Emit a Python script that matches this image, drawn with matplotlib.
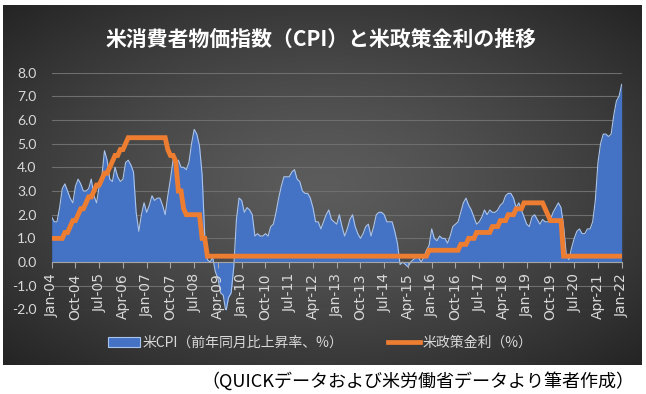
import numpy as np
import matplotlib.pyplot as plt
from matplotlib.patches import Patch
from matplotlib.lines import Line2D

# US CPI, year-on-year change (%), monthly Jan-2004 .. Jan-2022
cpi_2004_2008 = [
    1.9, 1.7, 1.7, 2.3, 3.1, 3.3, 3.0, 2.7, 2.5, 3.2, 3.5, 3.3,
    3.0, 3.0, 3.1, 3.5, 2.8, 2.5, 3.2, 3.6, 4.7, 4.3, 3.5, 3.4,
    4.0, 3.6, 3.4, 3.5, 4.2, 4.3, 4.1, 3.8, 2.1, 1.3, 2.0, 2.5,
    2.1, 2.4, 2.8, 2.6, 2.7, 2.7, 2.4, 2.0, 2.8, 3.5, 4.3, 4.1,
    4.3, 4.0, 4.0, 3.9, 4.2, 5.0, 5.6, 5.4, 4.9, 3.7, 1.1, 0.1,
]
cpi_2009_2014 = [
    0.0, 0.2, -0.4, -0.7, -1.3, -1.4, -2.1, -1.5, -1.3, -0.2, 1.8, 2.7,
    2.6, 2.1, 2.3, 2.2, 2.0, 1.1, 1.2, 1.1, 1.1, 1.2, 1.1, 1.5,
    1.6, 2.1, 2.7, 3.2, 3.6, 3.6, 3.6, 3.8, 3.9, 3.5, 3.4, 3.0,
    2.9, 2.9, 2.7, 2.3, 1.7, 1.7, 1.4, 1.7, 2.0, 2.2, 1.8, 1.7,
    1.6, 2.0, 1.5, 1.1, 1.4, 1.8, 2.0, 1.5, 1.2, 1.0, 1.2, 1.5,
    1.6, 1.1, 1.5, 2.0, 2.1, 2.1, 2.0, 1.7, 1.7, 1.7, 1.3, 0.8,
]
cpi_2015_2022 = [
    -0.1, 0.0, -0.1, -0.2, 0.0, 0.1, 0.2, 0.2, 0.0, 0.2, 0.5, 0.7,
    1.4, 1.0, 0.9, 1.1, 1.0, 1.0, 0.8, 1.1, 1.5, 1.6, 1.7, 2.1,
    2.5, 2.7, 2.4, 2.2, 1.9, 1.6, 1.7, 1.9, 2.2, 2.0, 2.2, 2.1,
    2.1, 2.2, 2.4, 2.5, 2.8, 2.9, 2.9, 2.7, 2.3, 2.5, 2.2, 1.9,
    1.6, 1.5, 1.9, 2.0, 1.8, 1.6, 1.8, 1.7, 1.7, 1.8, 2.1, 2.3,
    2.5, 2.3, 1.5, 0.3, 0.1, 0.6, 1.0, 1.3, 1.4, 1.2, 1.2, 1.4,
    1.4, 1.7, 2.6, 4.2, 5.0, 5.4, 5.4, 5.3, 5.4, 6.2, 6.8, 7.0,
    7.5,
]

# US policy rate (upper bound of FF target, %), month end
rate_2004_2008 = [
    1.0, 1.0, 1.0, 1.0, 1.0, 1.25, 1.25, 1.5, 1.75, 1.75, 2.0, 2.25,
    2.25, 2.5, 2.75, 2.75, 3.0, 3.25, 3.25, 3.5, 3.75, 3.75, 4.0, 4.25,
    4.5, 4.5, 4.75, 4.75, 5.0, 5.25, 5.25, 5.25, 5.25, 5.25, 5.25, 5.25,
    5.25, 5.25, 5.25, 5.25, 5.25, 5.25, 5.25, 5.25, 4.75, 4.5, 4.5, 4.25,
    3.0, 3.0, 2.25, 2.0, 2.0, 2.0, 2.0, 2.0, 2.0, 1.0, 1.0, 0.25,
]
rate_2009_2014 = [0.25] * 72
rate_2015_2022 = [
    0.25, 0.25, 0.25, 0.25, 0.25, 0.25, 0.25, 0.25, 0.25, 0.25, 0.25, 0.5,
    0.5, 0.5, 0.5, 0.5, 0.5, 0.5, 0.5, 0.5, 0.5, 0.5, 0.5, 0.75,
    0.75, 0.75, 1.0, 1.0, 1.0, 1.25, 1.25, 1.25, 1.25, 1.25, 1.25, 1.5,
    1.5, 1.5, 1.75, 1.75, 1.75, 2.0, 2.0, 2.0, 2.25, 2.25, 2.25, 2.5,
    2.5, 2.5, 2.5, 2.5, 2.5, 2.5, 2.5, 2.25, 2.0, 1.75, 1.75, 1.75,
    1.75, 1.75, 0.25, 0.25, 0.25, 0.25, 0.25, 0.25, 0.25, 0.25, 0.25, 0.25,
    0.25, 0.25, 0.25, 0.25, 0.25, 0.25, 0.25, 0.25, 0.25, 0.25, 0.25, 0.25,
    0.25,
]

tick_labels = ["Jan-04", "Oct-04", "Jul-05", "Apr-06", "Jan-07", "Oct-07", "Jul-08",
               "Apr-09", "Jan-10", "Oct-10", "Jul-11", "Apr-12", "Jan-13", "Oct-13",
               "Jul-14", "Apr-15", "Jan-16", "Oct-16", "Jul-17", "Apr-18", "Jan-19",
               "Oct-19", "Jul-20", "Apr-21", "Jan-22"]

title = "米消費者物価指数（CPI）と米政策金利の推移"
cpi_label = "米CPI（前年同月比上昇率、%）"
rate_label = "米政策金利（%）"
caption = "（QUICKデータおよび米労働省データより筆者作成）"

cpi = np.array(cpi_2004_2008 + cpi_2009_2014 + cpi_2015_2022)
rate = np.array(rate_2004_2008 + rate_2009_2014 + rate_2015_2022)
months = np.arange(len(cpi))

JP = ['Noto Sans CJK JP', 'DejaVu Sans']
W, H = 646, 394
fig = plt.figure(figsize=(W / 100, H / 100), dpi=100)
fig.patch.set_facecolor('white')

# dark panel with a radial gradient (lighter in the middle)
bg = fig.add_axes([3 / W, 1 - 365 / H, 639 / W, 360 / H], zorder=-1)
gx, gy = np.meshgrid(np.linspace(-1, 1, 400), np.linspace(-1, 1, 250))
r = np.clip(np.sqrt(gx ** 2 + gy ** 2) / np.sqrt(2), 0, 1)
shade = (92 - 56 * r ** 1.3) / 255.0
bg.imshow(np.dstack([shade, shade, shade]), aspect='auto', extent=[0, 1, 0, 1])
bg.set_axis_off()

# main plot area
x0, x1 = 51.7, 621.7
y_top, y_bot = 72.5, 309.5
ax = fig.add_axes([x0 / W, 1 - y_bot / H, (x1 - x0) / W, (y_bot - y_top) / H])
ax.set_facecolor('none')
ax.set_xlim(0, len(cpi) - 1)
ax.set_ylim(-2, 8)

for yv in np.arange(-2, 9):
    ax.axhline(yv, color='#6e6e6e', lw=0.8, zorder=0.5)

ax.fill_between(months, cpi, 0, color='#4472C4', lw=0, zorder=1)
ax.plot(months, cpi, color='#a9c4ec', lw=0.8, zorder=1.1)
ax.plot(months, rate, color='#ED7D31', lw=3.5, solid_joinstyle='miter', zorder=2)

ax.set_yticks(np.arange(-2, 9))
ax.set_yticklabels([f"{v:.1f}" for v in np.arange(-2, 9)])
ax.set_xticks(np.arange(0, len(cpi), 9))
ax.set_xticklabels(tick_labels)
ax.tick_params(axis='y', length=0, pad=11, labelsize=10, labelcolor='#d9d9d9')
ax.tick_params(axis='x', length=4, width=0.8, color='#a6a6a6', pad=4,
               labelsize=10, labelcolor='#d9d9d9', labelrotation=90)
for lbl in ax.get_xticklabels() + ax.get_yticklabels():
    lbl.set_family(['Lato', 'DejaVu Sans'])
for side in ['top', 'right', 'left']:
    ax.spines[side].set_visible(False)
ax.spines['bottom'].set_position(('data', 0))
ax.spines['bottom'].set_color('#a6a6a6')
ax.spines['bottom'].set_linewidth(0.8)

fig.text(321 / W, 1 - 39 / H, title, ha='center', va='center', color='white',
         fontsize=15, fontweight='bold', family=JP)

handles = [Patch(facecolor='#4472C4', edgecolor='#a9c4ec', lw=0.8),
           Line2D([0], [0], color='#ED7D31', lw=3.4)]
leg = fig.legend(handles, [cpi_label, rate_label], loc='center',
                 bbox_to_anchor=(320 / W, 1 - 343 / H), ncol=2, frameon=False,
                 handlelength=2.3, handletextpad=0.2, columnspacing=3.2,
                 prop={'family': JP, 'size': 10})
for t in leg.get_texts():
    t.set_color('#d9d9d9')

fig.text(634 / W, 1 - 381 / H, caption, ha='right', va='center', color='black',
         fontsize=13, family=JP)

fig.savefig('out.png', dpi=100)
